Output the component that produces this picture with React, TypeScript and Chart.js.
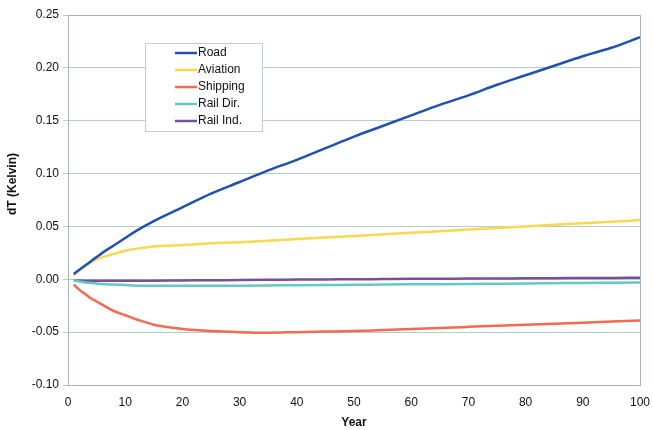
import React, { useEffect, useRef } from "react";
import { Chart, registerables } from "chart.js";
Chart.register(...registerables);

const years = [1, 2, 3, 4, 5, 6, 8, 10, 12, 15, 20, 25, 30, 35, 40, 45, 50, 55, 60, 65, 70, 75, 80, 85, 90, 95, 100];
const road = [0.005, 0.009, 0.013, 0.017, 0.021, 0.025, 0.032, 0.039, 0.046, 0.055, 0.068, 0.081, 0.092, 0.103, 0.113, 0.124, 0.135, 0.145, 0.155, 0.165, 0.174, 0.184, 0.193, 0.202, 0.211, 0.219, 0.229];
const aviation = [0.004, 0.009, 0.013, 0.016, 0.019, 0.021, 0.024, 0.027, 0.029, 0.031, 0.0325, 0.034, 0.035, 0.0365, 0.038, 0.0395, 0.041, 0.0425, 0.044, 0.0455, 0.047, 0.0485, 0.05, 0.0515, 0.053, 0.0545, 0.056];
const shipping = [-0.005, -0.01, -0.014, -0.018, -0.021, -0.024, -0.03, -0.034, -0.038, -0.043, -0.047, -0.049, -0.05, -0.0505, -0.05, -0.0495, -0.049, -0.048, -0.047, -0.046, -0.045, -0.044, -0.043, -0.042, -0.041, -0.04, -0.039];
const railDir = [-0.001, -0.002, -0.003, -0.0035, -0.004, -0.0045, -0.005, -0.0055, -0.006, -0.006, -0.0062, -0.0062, -0.006, -0.0058, -0.0056, -0.0054, -0.0052, -0.005, -0.0048, -0.0046, -0.0044, -0.0042, -0.004, -0.0037, -0.0034, -0.0032, -0.003];
const railInd = [-0.001, -0.0012, -0.0013, -0.0014, -0.0015, -0.0015, -0.0015, -0.0015, -0.0014, -0.0013, -0.0011, -0.0009, -0.0007, -0.0005, -0.0003, -0.0001, 0.0, 0.0002, 0.0004, 0.0005, 0.0007, 0.0008, 0.0009, 0.001, 0.0012, 0.0013, 0.0015];

const seriesNames = ["Road", "Aviation", "Shipping", "Rail Dir.", "Rail Ind."];
const seriesData = [road, aviation, shipping, railDir, railInd];
const seriesColors = ["#2050b0", "#f7d84e", "#f36a50", "#62c9c3", "#7a4e9e"];

const FONT = "'Liberation Sans', Arial, sans-serif";

const frameAndLegend = {
  id: "frameAndLegend",
  afterDraw(chart: any) {
    const { ctx, chartArea } = chart;
    ctx.save();
    ctx.strokeStyle = "#a9b6b6";
    ctx.lineWidth = 1;
    ctx.strokeRect(Math.round(chartArea.left) + 0.5, Math.round(chartArea.top) + 0.5, Math.round(chartArea.right - chartArea.left), Math.round(chartArea.bottom - chartArea.top));
    // y axis title
    ctx.save();
    ctx.translate(13, 184);
    ctx.rotate(-Math.PI / 2);
    ctx.font = "bold 12px " + FONT;
    ctx.fillStyle = "#111";
    ctx.textAlign = "center";
    ctx.textBaseline = "middle";
    ctx.fillText("dT (Kelvin)", 0, 0);
    ctx.restore();
    // legend box
    const bx = 145, by = 43, bw = 117, bh = 88;
    ctx.fillStyle = "#ffffff";
    ctx.fillRect(bx, by, bw, bh);
    ctx.strokeStyle = "#c4cccc";
    ctx.lineWidth = 1;
    ctx.strokeRect(bx + 0.5, by + 0.5, bw, bh);
    ctx.font = "12px " + FONT;
    ctx.textBaseline = "middle";
    ctx.textAlign = "left";
    seriesNames.forEach((n, i) => {
      const y = 53 + i * 17;
      ctx.strokeStyle = seriesColors[i];
      ctx.lineWidth = 2.5;
      ctx.beginPath();
      ctx.moveTo(175, y);
      ctx.lineTo(197, y);
      ctx.stroke();
      ctx.fillStyle = "#111";
      ctx.fillText(n, 198, y);
    });
    ctx.restore();
  },
};

export default function App() {
  const ref = useRef<HTMLCanvasElement>(null);
  useEffect(() => {
    const chart = new Chart(ref.current!, {
      type: "line",
      data: {
        datasets: seriesNames.map((n, i) => ({
          label: n,
          data: years.map((x, j) => ({ x, y: seriesData[i][j] })),
          borderColor: seriesColors[i],
          backgroundColor: seriesColors[i],
          borderWidth: 2.5,
          pointRadius: 0,
          cubicInterpolationMode: "monotone" as const,
          fill: false,
        })),
      },
      options: {
        animation: false,
        responsive: false,
        layout: { padding: { top: 15, right: 13, left: 0, bottom: 0 } },
        plugins: { legend: { display: false }, tooltip: { enabled: false } },
        scales: {
          x: {
            type: "linear",
            min: 0,
            max: 100,
            ticks: { stepSize: 10, color: "#111", font: { family: FONT, size: 12 }, padding: 10 },
            grid: { display: false, drawTicks: false },
            border: { display: false },
            title: { display: true, text: "Year", color: "#111", font: { family: FONT, size: 12, weight: "bold" }, padding: { top: 0, bottom: 0 } },
            afterFit: (s: any) => { s.height = 45; s.paddingLeft = 0; s.paddingRight = 0; },
          },
          y: {
            min: -0.1,
            max: 0.25,
            ticks: {
              stepSize: 0.05,
              color: "#111",
              font: { family: FONT, size: 12 },
              padding: 4,
              callback: (v: any) => (Math.abs(Number(v)) < 1e-9 ? 0 : Number(v)).toFixed(2),
            },
            grid: { color: "#b4ccd0", tickLength: 5 },
            border: { display: false },
            title: { display: false },
            afterFit: (s: any) => { s.width = 68; s.paddingTop = 0; s.paddingBottom = 0; },
          },
        },
      },
      plugins: [frameAndLegend],
    });
    return () => chart.destroy();
  }, []);
  return (
    <div style={{ position: "fixed", left: 0, top: 0, width: 653, height: 430, background: "#fff" }}>
      <canvas ref={ref} width={653} height={430} style={{ width: 653, height: 430 }} />
    </div>
  );
}
